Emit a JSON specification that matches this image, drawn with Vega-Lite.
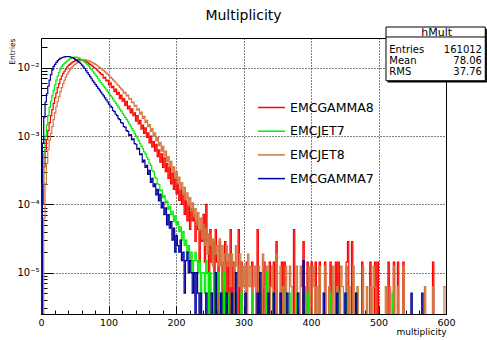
{
  "$schema": "https://vega.github.io/schema/vega-lite/v6.json",
  "width": 405,
  "height": 276,
  "autosize": {"type": "none"},
  "padding": {"left": 41, "top": 38, "right": 41, "bottom": 26},
  "background": "white",
  "title": {"text": "Multiplicity", "font": "DejaVu Sans", "fontSize": 14, "fontWeight": "normal", "color": "black", "anchor": "middle", "frame": "group", "offset": 4},
  "config": {
    "view": {"stroke": "black", "strokeWidth": 1},
    "axis": {"domainColor": "black", "tickColor": "black", "labelColor": "black", "titleColor": "black"}
  },
  "layer": [
    {
      "data": {"values": [
        {"series":"EMCGAMMA8","x":0,"y":1e-7},{"series":"EMCGAMMA8","x":2,"y":1e-4},{"series":"EMCGAMMA8","x":4,"y":3.55e-4},{"series":"EMCGAMMA8","x":6,"y":6.31e-4},{"series":"EMCGAMMA8","x":8,"y":8.91e-4},{"series":"EMCGAMMA8","x":10,"y":1.2e-3},{"series":"EMCGAMMA8","x":12,"y":1.58e-3},{"series":"EMCGAMMA8","x":14,"y":2.0e-3},{"series":"EMCGAMMA8","x":16,"y":2.45e-3},{"series":"EMCGAMMA8","x":18,"y":3.02e-3},
        {"series":"EMCGAMMA8","x":20,"y":3.63e-3},{"series":"EMCGAMMA8","x":22,"y":4.27e-3},{"series":"EMCGAMMA8","x":24,"y":5.13e-3},{"series":"EMCGAMMA8","x":26,"y":5.89e-3},{"series":"EMCGAMMA8","x":28,"y":6.76e-3},{"series":"EMCGAMMA8","x":30,"y":7.59e-3},{"series":"EMCGAMMA8","x":32,"y":8.32e-3},{"series":"EMCGAMMA8","x":34,"y":8.91e-3},{"series":"EMCGAMMA8","x":36,"y":9.55e-3},{"series":"EMCGAMMA8","x":38,"y":1.023e-2},
        {"series":"EMCGAMMA8","x":40,"y":1.084e-2},{"series":"EMCGAMMA8","x":42,"y":1.122e-2},{"series":"EMCGAMMA8","x":44,"y":1.175e-2},{"series":"EMCGAMMA8","x":46,"y":1.216e-2},{"series":"EMCGAMMA8","x":48,"y":1.245e-2},{"series":"EMCGAMMA8","x":50,"y":1.274e-2},{"series":"EMCGAMMA8","x":52,"y":1.294e-2},{"series":"EMCGAMMA8","x":54,"y":1.306e-2},{"series":"EMCGAMMA8","x":56,"y":1.318e-2},{"series":"EMCGAMMA8","x":58,"y":1.312e-2},
        {"series":"EMCGAMMA8","x":60,"y":1.3e-2},{"series":"EMCGAMMA8","x":62,"y":1.279e-2},{"series":"EMCGAMMA8","x":64,"y":1.259e-2},{"series":"EMCGAMMA8","x":66,"y":1.23e-2},{"series":"EMCGAMMA8","x":68,"y":1.202e-2},{"series":"EMCGAMMA8","x":70,"y":1.161e-2},{"series":"EMCGAMMA8","x":72,"y":1.122e-2},{"series":"EMCGAMMA8","x":74,"y":1.084e-2},{"series":"EMCGAMMA8","x":76,"y":1.047e-2},{"series":"EMCGAMMA8","x":78,"y":1.012e-2},
        {"series":"EMCGAMMA8","x":80,"y":9.77e-3},{"series":"EMCGAMMA8","x":82,"y":9.33e-3},{"series":"EMCGAMMA8","x":84,"y":8.91e-3},{"series":"EMCGAMMA8","x":86,"y":8.51e-3},{"series":"EMCGAMMA8","x":88,"y":8.13e-3},{"series":"EMCGAMMA8","x":90,"y":7.94e-3},{"series":"EMCGAMMA8","x":92,"y":7.08e-3},{"series":"EMCGAMMA8","x":94,"y":7.24e-3},{"series":"EMCGAMMA8","x":96,"y":6.46e-3},{"series":"EMCGAMMA8","x":98,"y":6.6e-3},
        {"series":"EMCGAMMA8","x":100,"y":5.62e-3},{"series":"EMCGAMMA8","x":102,"y":6.03e-3},{"series":"EMCGAMMA8","x":104,"y":5.13e-3},{"series":"EMCGAMMA8","x":106,"y":5.37e-3},{"series":"EMCGAMMA8","x":108,"y":4.47e-3},{"series":"EMCGAMMA8","x":110,"y":4.9e-3},{"series":"EMCGAMMA8","x":112,"y":4.07e-3},{"series":"EMCGAMMA8","x":114,"y":4.37e-3},{"series":"EMCGAMMA8","x":116,"y":3.55e-3},{"series":"EMCGAMMA8","x":118,"y":3.98e-3},
        {"series":"EMCGAMMA8","x":120,"y":3.24e-3},{"series":"EMCGAMMA8","x":122,"y":3.55e-3},{"series":"EMCGAMMA8","x":124,"y":2.82e-3},{"series":"EMCGAMMA8","x":126,"y":3.24e-3},{"series":"EMCGAMMA8","x":128,"y":2.51e-3},{"series":"EMCGAMMA8","x":130,"y":2.75e-3},{"series":"EMCGAMMA8","x":132,"y":2.19e-3},{"series":"EMCGAMMA8","x":134,"y":2.51e-3},{"series":"EMCGAMMA8","x":136,"y":2.0e-3},{"series":"EMCGAMMA8","x":138,"y":2.19e-3},
        {"series":"EMCGAMMA8","x":140,"y":1.66e-3},{"series":"EMCGAMMA8","x":142,"y":2.0e-3},{"series":"EMCGAMMA8","x":144,"y":1.51e-3},{"series":"EMCGAMMA8","x":146,"y":1.7e-3},{"series":"EMCGAMMA8","x":148,"y":1.26e-3},{"series":"EMCGAMMA8","x":150,"y":1.45e-3},{"series":"EMCGAMMA8","x":152,"y":1.1e-3},{"series":"EMCGAMMA8","x":154,"y":1.32e-3},{"series":"EMCGAMMA8","x":156,"y":9.55e-4},{"series":"EMCGAMMA8","x":158,"y":1.12e-3},
        {"series":"EMCGAMMA8","x":160,"y":7.94e-4},{"series":"EMCGAMMA8","x":162,"y":1.0e-3},{"series":"EMCGAMMA8","x":164,"y":6.92e-4},{"series":"EMCGAMMA8","x":166,"y":8.32e-4},{"series":"EMCGAMMA8","x":168,"y":6.03e-4},{"series":"EMCGAMMA8","x":170,"y":7.59e-4},{"series":"EMCGAMMA8","x":172,"y":5.0e-4},{"series":"EMCGAMMA8","x":174,"y":6.31e-4},{"series":"EMCGAMMA8","x":176,"y":4.17e-4},{"series":"EMCGAMMA8","x":178,"y":5.5e-4},
        {"series":"EMCGAMMA8","x":180,"y":3.47e-4},{"series":"EMCGAMMA8","x":182,"y":4.79e-4},{"series":"EMCGAMMA8","x":184,"y":3.02e-4},{"series":"EMCGAMMA8","x":186,"y":3.98e-4},{"series":"EMCGAMMA8","x":188,"y":2.4e-4},{"series":"EMCGAMMA8","x":190,"y":3.47e-4},{"series":"EMCGAMMA8","x":192,"y":2.0e-4},{"series":"EMCGAMMA8","x":194,"y":2.82e-4},{"series":"EMCGAMMA8","x":196,"y":1.66e-4},{"series":"EMCGAMMA8","x":198,"y":2.4e-4},
        {"series":"EMCGAMMA8","x":200,"y":1.43e-4},{"series":"EMCGAMMA8","x":202,"y":2.0e-4},{"series":"EMCGAMMA8","x":204,"y":1.14e-4},{"series":"EMCGAMMA8","x":206,"y":1.66e-4},{"series":"EMCGAMMA8","x":208,"y":1.0e-4},{"series":"EMCGAMMA8","x":210,"y":1.43e-4},{"series":"EMCGAMMA8","x":212,"y":7.15e-5},{"series":"EMCGAMMA8","x":214,"y":1.14e-4},{"series":"EMCGAMMA8","x":216,"y":5.72e-5},{"series":"EMCGAMMA8","x":218,"y":1.0e-4},
        {"series":"EMCGAMMA8","x":220,"y":4.29e-5},{"series":"EMCGAMMA8","x":222,"y":8.6e-5},{"series":"EMCGAMMA8","x":224,"y":5.72e-5},{"series":"EMCGAMMA8","x":226,"y":7.15e-5},{"series":"EMCGAMMA8","x":228,"y":2.86e-5},{"series":"EMCGAMMA8","x":230,"y":5.72e-5},{"series":"EMCGAMMA8","x":232,"y":4.29e-5},{"series":"EMCGAMMA8","x":234,"y":1.43e-5},{"series":"EMCGAMMA8","x":236,"y":4.29e-5},{"series":"EMCGAMMA8","x":238,"y":2.86e-5},
        {"series":"EMCGAMMA8","x":240,"y":7.15e-5},{"series":"EMCGAMMA8","x":242,"y":1.43e-5},{"series":"EMCGAMMA8","x":244,"y":1.0e-4},{"series":"EMCGAMMA8","x":246,"y":2.86e-5},{"series":"EMCGAMMA8","x":248,"y":1e-7},{"series":"EMCGAMMA8","x":250,"y":4.29e-5},{"series":"EMCGAMMA8","x":252,"y":1.43e-5},{"series":"EMCGAMMA8","x":254,"y":2.86e-5},{"series":"EMCGAMMA8","x":256,"y":1e-7},{"series":"EMCGAMMA8","x":258,"y":4.29e-5},
        {"series":"EMCGAMMA8","x":260,"y":1.43e-5},{"series":"EMCGAMMA8","x":262,"y":1e-7},{"series":"EMCGAMMA8","x":264,"y":2.86e-5},{"series":"EMCGAMMA8","x":266,"y":1.43e-5},{"series":"EMCGAMMA8","x":268,"y":1e-7},{"series":"EMCGAMMA8","x":270,"y":1.43e-5},{"series":"EMCGAMMA8","x":272,"y":2.86e-5},{"series":"EMCGAMMA8","x":274,"y":1e-7},{"series":"EMCGAMMA8","x":276,"y":1.43e-5},{"series":"EMCGAMMA8","x":278,"y":1e-7},
        {"series":"EMCGAMMA8","x":280,"y":4.29e-5},{"series":"EMCGAMMA8","x":282,"y":1e-7},{"series":"EMCGAMMA8","x":284,"y":1.43e-5},{"series":"EMCGAMMA8","x":286,"y":1e-7},{"series":"EMCGAMMA8","x":292,"y":4.29e-5},{"series":"EMCGAMMA8","x":294,"y":1e-7},{"series":"EMCGAMMA8","x":296,"y":1.43e-5},{"series":"EMCGAMMA8","x":298,"y":1e-7},{"series":"EMCGAMMA8","x":304,"y":1.43e-5},{"series":"EMCGAMMA8","x":306,"y":1e-7},
        {"series":"EMCGAMMA8","x":312,"y":1.43e-5},{"series":"EMCGAMMA8","x":314,"y":1e-7},{"series":"EMCGAMMA8","x":320,"y":4.29e-5},{"series":"EMCGAMMA8","x":322,"y":1e-7},{"series":"EMCGAMMA8","x":330,"y":1.43e-5},{"series":"EMCGAMMA8","x":332,"y":1e-7},{"series":"EMCGAMMA8","x":338,"y":1.43e-5},{"series":"EMCGAMMA8","x":340,"y":1e-7},{"series":"EMCGAMMA8","x":344,"y":1.43e-5},{"series":"EMCGAMMA8","x":346,"y":1e-7},
        {"series":"EMCGAMMA8","x":348,"y":2.86e-5},{"series":"EMCGAMMA8","x":350,"y":1e-7},{"series":"EMCGAMMA8","x":356,"y":1.43e-5},{"series":"EMCGAMMA8","x":358,"y":1e-7},{"series":"EMCGAMMA8","x":360,"y":1.43e-5},{"series":"EMCGAMMA8","x":362,"y":1e-7},{"series":"EMCGAMMA8","x":374,"y":4.29e-5},{"series":"EMCGAMMA8","x":376,"y":1e-7},{"series":"EMCGAMMA8","x":388,"y":2.86e-5},{"series":"EMCGAMMA8","x":390,"y":1e-7},
        {"series":"EMCGAMMA8","x":394,"y":1.43e-5},{"series":"EMCGAMMA8","x":396,"y":1e-7},{"series":"EMCGAMMA8","x":400,"y":1.43e-5},{"series":"EMCGAMMA8","x":402,"y":1e-7},{"series":"EMCGAMMA8","x":406,"y":1.43e-5},{"series":"EMCGAMMA8","x":408,"y":1e-7},{"series":"EMCGAMMA8","x":412,"y":1.43e-5},{"series":"EMCGAMMA8","x":414,"y":1e-7},{"series":"EMCGAMMA8","x":420,"y":1.43e-5},{"series":"EMCGAMMA8","x":422,"y":1e-7},
        {"series":"EMCGAMMA8","x":428,"y":1.43e-5},{"series":"EMCGAMMA8","x":430,"y":1e-7},{"series":"EMCGAMMA8","x":436,"y":1.43e-5},{"series":"EMCGAMMA8","x":438,"y":1e-7},{"series":"EMCGAMMA8","x":440,"y":1.43e-5},{"series":"EMCGAMMA8","x":442,"y":1e-7},{"series":"EMCGAMMA8","x":452,"y":1.43e-5},{"series":"EMCGAMMA8","x":454,"y":2.86e-5},{"series":"EMCGAMMA8","x":456,"y":1e-7},{"series":"EMCGAMMA8","x":460,"y":2.86e-5},
        {"series":"EMCGAMMA8","x":462,"y":1e-7},{"series":"EMCGAMMA8","x":475,"y":1.43e-5},{"series":"EMCGAMMA8","x":477,"y":1e-7},{"series":"EMCGAMMA8","x":487,"y":1.43e-5},{"series":"EMCGAMMA8","x":489,"y":1e-7},{"series":"EMCGAMMA8","x":494,"y":1.43e-5},{"series":"EMCGAMMA8","x":496,"y":1e-7},{"series":"EMCGAMMA8","x":498,"y":1.43e-5},{"series":"EMCGAMMA8","x":500,"y":1e-7},{"series":"EMCGAMMA8","x":514,"y":1.43e-5},
        {"series":"EMCGAMMA8","x":516,"y":1e-7},{"series":"EMCGAMMA8","x":522,"y":1.43e-5},{"series":"EMCGAMMA8","x":524,"y":1e-7},{"series":"EMCGAMMA8","x":528,"y":1.43e-5},{"series":"EMCGAMMA8","x":530,"y":1e-7},{"series":"EMCGAMMA8","x":536,"y":1.43e-5},{"series":"EMCGAMMA8","x":538,"y":1e-7},{"series":"EMCGAMMA8","x":580,"y":1.43e-5},{"series":"EMCGAMMA8","x":582,"y":1e-7},{"series":"EMCGAMMA8","x":600,"y":1e-7},

        {"series":"EMCJET8","x":0,"y":1e-7},{"series":"EMCJET8","x":2,"y":1e-7},{"series":"EMCJET8","x":4,"y":6.3e-5},{"series":"EMCJET8","x":6,"y":2.0e-4},{"series":"EMCJET8","x":8,"y":3.98e-4},{"series":"EMCJET8","x":10,"y":6.31e-4},{"series":"EMCJET8","x":12,"y":8.71e-4},{"series":"EMCJET8","x":14,"y":1.1e-3},{"series":"EMCJET8","x":16,"y":1.38e-3},{"series":"EMCJET8","x":18,"y":1.74e-3},
        {"series":"EMCJET8","x":20,"y":2.19e-3},{"series":"EMCJET8","x":22,"y":2.69e-3},{"series":"EMCJET8","x":24,"y":3.24e-3},{"series":"EMCJET8","x":26,"y":3.8e-3},{"series":"EMCJET8","x":28,"y":4.47e-3},{"series":"EMCJET8","x":30,"y":5.13e-3},{"series":"EMCJET8","x":32,"y":5.89e-3},{"series":"EMCJET8","x":34,"y":6.6e-3},{"series":"EMCJET8","x":36,"y":7.33e-3},{"series":"EMCJET8","x":38,"y":8.04e-3},
        {"series":"EMCJET8","x":40,"y":8.71e-3},{"series":"EMCJET8","x":42,"y":9.33e-3},{"series":"EMCJET8","x":44,"y":9.89e-3},{"series":"EMCJET8","x":46,"y":1.047e-2},{"series":"EMCJET8","x":48,"y":1.096e-2},{"series":"EMCJET8","x":50,"y":1.135e-2},{"series":"EMCJET8","x":52,"y":1.175e-2},{"series":"EMCJET8","x":54,"y":1.216e-2},{"series":"EMCJET8","x":56,"y":1.259e-2},{"series":"EMCJET8","x":58,"y":1.288e-2},
        {"series":"EMCJET8","x":60,"y":1.306e-2},{"series":"EMCJET8","x":62,"y":1.318e-2},{"series":"EMCJET8","x":64,"y":1.315e-2},{"series":"EMCJET8","x":66,"y":1.303e-2},{"series":"EMCJET8","x":68,"y":1.288e-2},{"series":"EMCJET8","x":70,"y":1.265e-2},{"series":"EMCJET8","x":72,"y":1.242e-2},{"series":"EMCJET8","x":74,"y":1.216e-2},{"series":"EMCJET8","x":76,"y":1.186e-2},{"series":"EMCJET8","x":78,"y":1.156e-2},
        {"series":"EMCJET8","x":80,"y":1.122e-2},{"series":"EMCJET8","x":82,"y":1.089e-2},{"series":"EMCJET8","x":84,"y":1.054e-2},{"series":"EMCJET8","x":86,"y":1.019e-2},{"series":"EMCJET8","x":88,"y":9.82e-3},{"series":"EMCJET8","x":90,"y":9.44e-3},{"series":"EMCJET8","x":92,"y":9.08e-3},{"series":"EMCJET8","x":94,"y":8.71e-3},{"series":"EMCJET8","x":96,"y":8.36e-3},{"series":"EMCJET8","x":98,"y":8.02e-3},
        {"series":"EMCJET8","x":100,"y":7.67e-3},{"series":"EMCJET8","x":102,"y":7.33e-3},{"series":"EMCJET8","x":104,"y":7.0e-3},{"series":"EMCJET8","x":106,"y":6.68e-3},{"series":"EMCJET8","x":108,"y":6.38e-3},{"series":"EMCJET8","x":110,"y":6.05e-3},{"series":"EMCJET8","x":112,"y":5.75e-3},{"series":"EMCJET8","x":114,"y":5.47e-3},{"series":"EMCJET8","x":116,"y":5.19e-3},{"series":"EMCJET8","x":118,"y":4.92e-3},
        {"series":"EMCJET8","x":120,"y":4.68e-3},{"series":"EMCJET8","x":122,"y":4.27e-3},{"series":"EMCJET8","x":124,"y":4.37e-3},{"series":"EMCJET8","x":126,"y":3.89e-3},{"series":"EMCJET8","x":128,"y":3.98e-3},{"series":"EMCJET8","x":130,"y":3.47e-3},{"series":"EMCJET8","x":132,"y":3.55e-3},{"series":"EMCJET8","x":134,"y":3.09e-3},{"series":"EMCJET8","x":136,"y":3.16e-3},{"series":"EMCJET8","x":138,"y":2.75e-3},
        {"series":"EMCJET8","x":140,"y":2.82e-3},{"series":"EMCJET8","x":142,"y":2.4e-3},{"series":"EMCJET8","x":144,"y":2.51e-3},{"series":"EMCJET8","x":146,"y":2.09e-3},{"series":"EMCJET8","x":148,"y":2.24e-3},{"series":"EMCJET8","x":150,"y":1.82e-3},{"series":"EMCJET8","x":152,"y":1.95e-3},{"series":"EMCJET8","x":154,"y":1.58e-3},{"series":"EMCJET8","x":156,"y":1.7e-3},{"series":"EMCJET8","x":158,"y":1.38e-3},
        {"series":"EMCJET8","x":160,"y":1.48e-3},{"series":"EMCJET8","x":162,"y":1.175e-3},{"series":"EMCJET8","x":164,"y":1.29e-3},{"series":"EMCJET8","x":166,"y":1.0e-3},{"series":"EMCJET8","x":168,"y":1.12e-3},{"series":"EMCJET8","x":170,"y":8.51e-4},{"series":"EMCJET8","x":172,"y":9.55e-4},{"series":"EMCJET8","x":174,"y":7.24e-4},{"series":"EMCJET8","x":176,"y":8.13e-4},{"series":"EMCJET8","x":178,"y":6.03e-4},
        {"series":"EMCJET8","x":180,"y":7.08e-4},{"series":"EMCJET8","x":182,"y":5.13e-4},{"series":"EMCJET8","x":184,"y":6.03e-4},{"series":"EMCJET8","x":186,"y":4.27e-4},{"series":"EMCJET8","x":188,"y":5.0e-4},{"series":"EMCJET8","x":190,"y":3.55e-4},{"series":"EMCJET8","x":192,"y":4.27e-4},{"series":"EMCJET8","x":194,"y":2.95e-4},{"series":"EMCJET8","x":196,"y":3.55e-4},{"series":"EMCJET8","x":198,"y":2.4e-4},
        {"series":"EMCJET8","x":200,"y":3.02e-4},{"series":"EMCJET8","x":202,"y":2.0e-4},{"series":"EMCJET8","x":204,"y":2.51e-4},{"series":"EMCJET8","x":206,"y":1.66e-4},{"series":"EMCJET8","x":208,"y":2.09e-4},{"series":"EMCJET8","x":210,"y":1.38e-4},{"series":"EMCJET8","x":212,"y":1.78e-4},{"series":"EMCJET8","x":214,"y":1.15e-4},{"series":"EMCJET8","x":216,"y":1.48e-4},{"series":"EMCJET8","x":218,"y":9.55e-5},
        {"series":"EMCJET8","x":220,"y":1.26e-4},{"series":"EMCJET8","x":222,"y":7.94e-5},{"series":"EMCJET8","x":224,"y":1.05e-4},{"series":"EMCJET8","x":226,"y":6.6e-5},{"series":"EMCJET8","x":228,"y":8.71e-5},{"series":"EMCJET8","x":230,"y":5.0e-5},{"series":"EMCJET8","x":232,"y":7.59e-5},{"series":"EMCJET8","x":234,"y":4.17e-5},{"series":"EMCJET8","x":236,"y":6.3e-5},{"series":"EMCJET8","x":238,"y":3.12e-5},
        {"series":"EMCJET8","x":240,"y":5.0e-5},{"series":"EMCJET8","x":242,"y":2.5e-5},{"series":"EMCJET8","x":244,"y":4.37e-5},{"series":"EMCJET8","x":246,"y":1.87e-5},{"series":"EMCJET8","x":248,"y":3.74e-5},{"series":"EMCJET8","x":250,"y":2.5e-5},{"series":"EMCJET8","x":252,"y":3.12e-5},{"series":"EMCJET8","x":254,"y":1.25e-5},{"series":"EMCJET8","x":256,"y":3.12e-5},{"series":"EMCJET8","x":258,"y":1.87e-5},
        {"series":"EMCJET8","x":260,"y":2.5e-5},{"series":"EMCJET8","x":262,"y":1.25e-5},{"series":"EMCJET8","x":264,"y":3.12e-5},{"series":"EMCJET8","x":266,"y":1.25e-5},{"series":"EMCJET8","x":268,"y":2.5e-5},{"series":"EMCJET8","x":270,"y":6.24e-6},{"series":"EMCJET8","x":272,"y":1.87e-5},{"series":"EMCJET8","x":274,"y":2.5e-5},{"series":"EMCJET8","x":276,"y":1.25e-5},{"series":"EMCJET8","x":278,"y":1.87e-5},
        {"series":"EMCJET8","x":280,"y":6.24e-6},{"series":"EMCJET8","x":282,"y":1.87e-5},{"series":"EMCJET8","x":284,"y":1.25e-5},{"series":"EMCJET8","x":286,"y":6.24e-6},{"series":"EMCJET8","x":288,"y":2.5e-5},{"series":"EMCJET8","x":290,"y":1.25e-5},{"series":"EMCJET8","x":292,"y":6.24e-6},{"series":"EMCJET8","x":294,"y":1.87e-5},{"series":"EMCJET8","x":296,"y":1e-7},{"series":"EMCJET8","x":298,"y":1.25e-5},
        {"series":"EMCJET8","x":300,"y":6.24e-6},{"series":"EMCJET8","x":302,"y":1.25e-5},{"series":"EMCJET8","x":304,"y":1e-7},{"series":"EMCJET8","x":306,"y":1.87e-5},{"series":"EMCJET8","x":308,"y":6.24e-6},{"series":"EMCJET8","x":310,"y":1.25e-5},{"series":"EMCJET8","x":312,"y":1e-7},{"series":"EMCJET8","x":314,"y":6.24e-6},{"series":"EMCJET8","x":316,"y":1.25e-5},{"series":"EMCJET8","x":318,"y":1e-7},
        {"series":"EMCJET8","x":322,"y":1.25e-5},{"series":"EMCJET8","x":324,"y":1e-7},{"series":"EMCJET8","x":328,"y":1.87e-5},{"series":"EMCJET8","x":330,"y":6.24e-6},{"series":"EMCJET8","x":332,"y":1e-7},{"series":"EMCJET8","x":334,"y":1.25e-5},{"series":"EMCJET8","x":336,"y":1e-7},{"series":"EMCJET8","x":340,"y":6.24e-6},{"series":"EMCJET8","x":342,"y":1.25e-5},{"series":"EMCJET8","x":344,"y":1e-7},
        {"series":"EMCJET8","x":348,"y":1.87e-5},{"series":"EMCJET8","x":350,"y":1e-7},{"series":"EMCJET8","x":354,"y":1.25e-5},{"series":"EMCJET8","x":356,"y":1e-7},{"series":"EMCJET8","x":358,"y":6.24e-6},{"series":"EMCJET8","x":360,"y":1e-7},{"series":"EMCJET8","x":362,"y":1.25e-5},{"series":"EMCJET8","x":364,"y":1e-7},{"series":"EMCJET8","x":368,"y":1.25e-5},{"series":"EMCJET8","x":370,"y":6.24e-6},
        {"series":"EMCJET8","x":372,"y":1e-7},{"series":"EMCJET8","x":378,"y":1.25e-5},{"series":"EMCJET8","x":380,"y":1e-7},{"series":"EMCJET8","x":384,"y":1.25e-5},{"series":"EMCJET8","x":386,"y":6.24e-6},{"series":"EMCJET8","x":388,"y":1e-7},{"series":"EMCJET8","x":390,"y":6.24e-6},{"series":"EMCJET8","x":392,"y":1e-7},{"series":"EMCJET8","x":396,"y":1.25e-5},{"series":"EMCJET8","x":398,"y":1e-7},
        {"series":"EMCJET8","x":402,"y":1.25e-5},{"series":"EMCJET8","x":404,"y":6.24e-6},{"series":"EMCJET8","x":406,"y":1e-7},{"series":"EMCJET8","x":408,"y":6.24e-6},{"series":"EMCJET8","x":410,"y":1e-7},{"series":"EMCJET8","x":412,"y":1.25e-5},{"series":"EMCJET8","x":414,"y":1e-7},{"series":"EMCJET8","x":420,"y":1.25e-5},{"series":"EMCJET8","x":422,"y":1e-7},{"series":"EMCJET8","x":426,"y":6.24e-6},
        {"series":"EMCJET8","x":428,"y":1e-7},{"series":"EMCJET8","x":432,"y":1.25e-5},{"series":"EMCJET8","x":434,"y":1e-7},{"series":"EMCJET8","x":438,"y":6.24e-6},{"series":"EMCJET8","x":440,"y":1e-7},{"series":"EMCJET8","x":444,"y":1.25e-5},{"series":"EMCJET8","x":446,"y":6.24e-6},{"series":"EMCJET8","x":448,"y":1e-7},{"series":"EMCJET8","x":452,"y":1.25e-5},{"series":"EMCJET8","x":454,"y":1e-7},
        {"series":"EMCJET8","x":456,"y":6.24e-6},{"series":"EMCJET8","x":458,"y":1e-7},{"series":"EMCJET8","x":462,"y":1.25e-5},{"series":"EMCJET8","x":464,"y":1e-7},{"series":"EMCJET8","x":468,"y":6.24e-6},{"series":"EMCJET8","x":470,"y":1e-7},{"series":"EMCJET8","x":476,"y":1.25e-5},{"series":"EMCJET8","x":478,"y":1e-7},{"series":"EMCJET8","x":482,"y":6.24e-6},{"series":"EMCJET8","x":484,"y":1e-7},
        {"series":"EMCJET8","x":488,"y":6.24e-6},{"series":"EMCJET8","x":490,"y":1e-7},{"series":"EMCJET8","x":492,"y":1.25e-5},{"series":"EMCJET8","x":494,"y":6.24e-6},{"series":"EMCJET8","x":496,"y":1e-7},{"series":"EMCJET8","x":510,"y":6.24e-6},{"series":"EMCJET8","x":512,"y":1e-7},{"series":"EMCJET8","x":516,"y":6.24e-6},{"series":"EMCJET8","x":518,"y":1e-7},{"series":"EMCJET8","x":522,"y":1.25e-5},
        {"series":"EMCJET8","x":524,"y":1e-7},{"series":"EMCJET8","x":528,"y":6.24e-6},{"series":"EMCJET8","x":530,"y":1e-7},{"series":"EMCJET8","x":536,"y":1.25e-5},{"series":"EMCJET8","x":538,"y":1e-7},{"series":"EMCJET8","x":568,"y":6.24e-6},{"series":"EMCJET8","x":570,"y":1e-7},{"series":"EMCJET8","x":580,"y":6.24e-6},{"series":"EMCJET8","x":582,"y":1e-7},{"series":"EMCJET8","x":597,"y":6.24e-6},{"series":"EMCJET8","x":600,"y":1e-7},

        {"series":"EMCJET7","x":0,"y":1e-7},{"series":"EMCJET7","x":2,"y":2.0e-4},{"series":"EMCJET7","x":4,"y":5.6e-4},{"series":"EMCJET7","x":6,"y":1.0e-3},{"series":"EMCJET7","x":8,"y":1.45e-3},{"series":"EMCJET7","x":10,"y":2.0e-3},{"series":"EMCJET7","x":12,"y":2.63e-3},{"series":"EMCJET7","x":14,"y":3.24e-3},{"series":"EMCJET7","x":16,"y":3.89e-3},{"series":"EMCJET7","x":18,"y":4.68e-3},
        {"series":"EMCJET7","x":20,"y":5.62e-3},{"series":"EMCJET7","x":22,"y":6.6e-3},{"series":"EMCJET7","x":24,"y":7.59e-3},{"series":"EMCJET7","x":26,"y":8.61e-3},{"series":"EMCJET7","x":28,"y":9.55e-3},{"series":"EMCJET7","x":30,"y":1.047e-2},{"series":"EMCJET7","x":32,"y":1.107e-2},{"series":"EMCJET7","x":34,"y":1.161e-2},{"series":"EMCJET7","x":36,"y":1.216e-2},{"series":"EMCJET7","x":38,"y":1.268e-2},
        {"series":"EMCJET7","x":40,"y":1.312e-2},{"series":"EMCJET7","x":42,"y":1.349e-2},{"series":"EMCJET7","x":44,"y":1.38e-2},{"series":"EMCJET7","x":46,"y":1.406e-2},{"series":"EMCJET7","x":48,"y":1.426e-2},{"series":"EMCJET7","x":50,"y":1.435e-2},{"series":"EMCJET7","x":52,"y":1.429e-2},{"series":"EMCJET7","x":54,"y":1.413e-2},{"series":"EMCJET7","x":56,"y":1.38e-2},{"series":"EMCJET7","x":58,"y":1.343e-2},
        {"series":"EMCJET7","x":60,"y":1.303e-2},{"series":"EMCJET7","x":62,"y":1.259e-2},{"series":"EMCJET7","x":64,"y":1.216e-2},{"series":"EMCJET7","x":66,"y":1.175e-2},{"series":"EMCJET7","x":68,"y":1.122e-2},{"series":"EMCJET7","x":70,"y":1.059e-2},{"series":"EMCJET7","x":72,"y":1.0e-2},{"series":"EMCJET7","x":74,"y":9.44e-3},{"series":"EMCJET7","x":76,"y":8.91e-3},{"series":"EMCJET7","x":78,"y":8.36e-3},
        {"series":"EMCJET7","x":80,"y":7.85e-3},{"series":"EMCJET7","x":82,"y":7.41e-3},{"series":"EMCJET7","x":84,"y":6.92e-3},{"series":"EMCJET7","x":86,"y":6.46e-3},{"series":"EMCJET7","x":88,"y":6.1e-3},{"series":"EMCJET7","x":90,"y":5.75e-3},{"series":"EMCJET7","x":92,"y":5.37e-3},{"series":"EMCJET7","x":94,"y":5.07e-3},{"series":"EMCJET7","x":96,"y":4.79e-3},{"series":"EMCJET7","x":98,"y":4.47e-3},
        {"series":"EMCJET7","x":100,"y":4.2e-3},{"series":"EMCJET7","x":102,"y":3.94e-3},{"series":"EMCJET7","x":104,"y":3.72e-3},{"series":"EMCJET7","x":106,"y":3.47e-3},{"series":"EMCJET7","x":108,"y":3.24e-3},{"series":"EMCJET7","x":110,"y":3.05e-3},{"series":"EMCJET7","x":112,"y":2.85e-3},{"series":"EMCJET7","x":114,"y":2.66e-3},{"series":"EMCJET7","x":116,"y":2.48e-3},{"series":"EMCJET7","x":118,"y":2.32e-3},
        {"series":"EMCJET7","x":120,"y":2.16e-3},{"series":"EMCJET7","x":122,"y":2.02e-3},{"series":"EMCJET7","x":124,"y":1.88e-3},{"series":"EMCJET7","x":126,"y":1.76e-3},{"series":"EMCJET7","x":128,"y":1.64e-3},{"series":"EMCJET7","x":130,"y":1.51e-3},{"series":"EMCJET7","x":132,"y":1.4e-3},{"series":"EMCJET7","x":134,"y":1.29e-3},{"series":"EMCJET7","x":136,"y":1.19e-3},{"series":"EMCJET7","x":138,"y":1.1e-3},
        {"series":"EMCJET7","x":140,"y":1.01e-3},{"series":"EMCJET7","x":142,"y":9.3e-4},{"series":"EMCJET7","x":144,"y":8.5e-4},{"series":"EMCJET7","x":146,"y":7.76e-4},{"series":"EMCJET7","x":148,"y":7.08e-4},{"series":"EMCJET7","x":150,"y":6.53e-4},{"series":"EMCJET7","x":152,"y":5.89e-4},{"series":"EMCJET7","x":154,"y":5.5e-4},{"series":"EMCJET7","x":156,"y":4.9e-4},{"series":"EMCJET7","x":158,"y":4.57e-4},
        {"series":"EMCJET7","x":160,"y":3.98e-4},{"series":"EMCJET7","x":162,"y":3.72e-4},{"series":"EMCJET7","x":164,"y":3.16e-4},{"series":"EMCJET7","x":166,"y":3.02e-4},{"series":"EMCJET7","x":168,"y":2.51e-4},{"series":"EMCJET7","x":170,"y":2.4e-4},{"series":"EMCJET7","x":172,"y":2.0e-4},{"series":"EMCJET7","x":174,"y":1.95e-4},{"series":"EMCJET7","x":176,"y":1.58e-4},{"series":"EMCJET7","x":178,"y":1.62e-4},
        {"series":"EMCJET7","x":180,"y":1.26e-4},{"series":"EMCJET7","x":182,"y":1.35e-4},{"series":"EMCJET7","x":184,"y":1.05e-4},{"series":"EMCJET7","x":186,"y":1.12e-4},{"series":"EMCJET7","x":188,"y":8.5e-5},{"series":"EMCJET7","x":190,"y":9.3e-5},{"series":"EMCJET7","x":192,"y":7.1e-5},{"series":"EMCJET7","x":194,"y":7.9e-5},{"series":"EMCJET7","x":196,"y":5.6e-5},{"series":"EMCJET7","x":198,"y":6.8e-5},
        {"series":"EMCJET7","x":200,"y":5.0e-5},{"series":"EMCJET7","x":202,"y":5.6e-5},{"series":"EMCJET7","x":204,"y":4.0e-5},{"series":"EMCJET7","x":206,"y":4.7e-5},{"series":"EMCJET7","x":208,"y":3.0e-5},{"series":"EMCJET7","x":210,"y":4.0e-5},{"series":"EMCJET7","x":212,"y":2.5e-5},{"series":"EMCJET7","x":214,"y":3.0e-5},{"series":"EMCJET7","x":216,"y":2.0e-5},{"series":"EMCJET7","x":218,"y":2.5e-5},
        {"series":"EMCJET7","x":220,"y":1.5e-5},{"series":"EMCJET7","x":222,"y":2.0e-5},{"series":"EMCJET7","x":224,"y":1.0e-5},{"series":"EMCJET7","x":226,"y":1.5e-5},{"series":"EMCJET7","x":228,"y":2.0e-5},{"series":"EMCJET7","x":230,"y":1.5e-5},{"series":"EMCJET7","x":232,"y":1.0e-5},{"series":"EMCJET7","x":234,"y":1.5e-5},{"series":"EMCJET7","x":236,"y":5e-6},{"series":"EMCJET7","x":238,"y":1.0e-5},
        {"series":"EMCJET7","x":240,"y":1.0e-5},{"series":"EMCJET7","x":242,"y":5e-6},{"series":"EMCJET7","x":244,"y":1.5e-5},{"series":"EMCJET7","x":246,"y":1.0e-5},{"series":"EMCJET7","x":248,"y":1e-7},{"series":"EMCJET7","x":250,"y":1.0e-5},{"series":"EMCJET7","x":252,"y":5e-6},{"series":"EMCJET7","x":254,"y":1e-7},{"series":"EMCJET7","x":256,"y":1.0e-5},{"series":"EMCJET7","x":258,"y":1e-7},
        {"series":"EMCJET7","x":260,"y":5e-6},{"series":"EMCJET7","x":262,"y":1.0e-5},{"series":"EMCJET7","x":264,"y":1e-7},{"series":"EMCJET7","x":266,"y":5e-6},{"series":"EMCJET7","x":268,"y":1e-7},{"series":"EMCJET7","x":270,"y":1.0e-5},{"series":"EMCJET7","x":272,"y":1e-7},{"series":"EMCJET7","x":276,"y":5e-6},{"series":"EMCJET7","x":278,"y":1e-7},{"series":"EMCJET7","x":282,"y":5e-6},
        {"series":"EMCJET7","x":284,"y":1e-7},{"series":"EMCJET7","x":288,"y":5e-6},{"series":"EMCJET7","x":290,"y":1e-7},{"series":"EMCJET7","x":296,"y":5e-6},{"series":"EMCJET7","x":298,"y":1e-7},{"series":"EMCJET7","x":312,"y":5e-6},{"series":"EMCJET7","x":314,"y":1e-7},{"series":"EMCJET7","x":324,"y":5e-6},{"series":"EMCJET7","x":326,"y":1e-7},{"series":"EMCJET7","x":334,"y":1.0e-5},
        {"series":"EMCJET7","x":336,"y":1e-7},{"series":"EMCJET7","x":344,"y":5e-6},{"series":"EMCJET7","x":346,"y":1e-7},{"series":"EMCJET7","x":362,"y":5e-6},{"series":"EMCJET7","x":364,"y":1e-7},{"series":"EMCJET7","x":368,"y":5e-6},{"series":"EMCJET7","x":370,"y":1e-7},{"series":"EMCJET7","x":378,"y":5e-6},{"series":"EMCJET7","x":380,"y":1e-7},{"series":"EMCJET7","x":394,"y":5e-6},
        {"series":"EMCJET7","x":396,"y":1e-7},{"series":"EMCJET7","x":428,"y":5e-6},{"series":"EMCJET7","x":430,"y":1e-7},{"series":"EMCJET7","x":440,"y":5e-6},{"series":"EMCJET7","x":442,"y":1e-7},{"series":"EMCJET7","x":452,"y":5e-6},{"series":"EMCJET7","x":454,"y":1e-7},{"series":"EMCJET7","x":466,"y":5e-6},{"series":"EMCJET7","x":468,"y":1e-7},{"series":"EMCJET7","x":520,"y":5e-6},
        {"series":"EMCJET7","x":522,"y":1e-7},{"series":"EMCJET7","x":600,"y":1e-7},

        {"series":"EMCGAMMA7","x":0,"y":1e-7},{"series":"EMCGAMMA7","x":2,"y":7.9e-4},{"series":"EMCGAMMA7","x":4,"y":1.9e-3},{"series":"EMCGAMMA7","x":6,"y":3.16e-3},{"series":"EMCGAMMA7","x":8,"y":4.17e-3},{"series":"EMCGAMMA7","x":10,"y":5.37e-3},{"series":"EMCGAMMA7","x":12,"y":6.6e-3},{"series":"EMCGAMMA7","x":14,"y":7.94e-3},{"series":"EMCGAMMA7","x":16,"y":9.33e-3},{"series":"EMCGAMMA7","x":18,"y":1.047e-2},
        {"series":"EMCGAMMA7","x":20,"y":1.122e-2},{"series":"EMCGAMMA7","x":22,"y":1.202e-2},{"series":"EMCGAMMA7","x":24,"y":1.274e-2},{"series":"EMCGAMMA7","x":26,"y":1.334e-2},{"series":"EMCGAMMA7","x":28,"y":1.374e-2},{"series":"EMCGAMMA7","x":30,"y":1.406e-2},{"series":"EMCGAMMA7","x":32,"y":1.429e-2},{"series":"EMCGAMMA7","x":34,"y":1.445e-2},{"series":"EMCGAMMA7","x":36,"y":1.459e-2},{"series":"EMCGAMMA7","x":38,"y":1.466e-2},
        {"series":"EMCGAMMA7","x":40,"y":1.462e-2},{"series":"EMCGAMMA7","x":42,"y":1.452e-2},{"series":"EMCGAMMA7","x":44,"y":1.429e-2},{"series":"EMCGAMMA7","x":46,"y":1.406e-2},{"series":"EMCGAMMA7","x":48,"y":1.374e-2},{"series":"EMCGAMMA7","x":50,"y":1.334e-2},{"series":"EMCGAMMA7","x":52,"y":1.288e-2},{"series":"EMCGAMMA7","x":54,"y":1.245e-2},{"series":"EMCGAMMA7","x":56,"y":1.202e-2},{"series":"EMCGAMMA7","x":58,"y":1.148e-2},
        {"series":"EMCGAMMA7","x":60,"y":1.096e-2},{"series":"EMCGAMMA7","x":62,"y":1.035e-2},{"series":"EMCGAMMA7","x":64,"y":9.77e-3},{"series":"EMCGAMMA7","x":66,"y":9.12e-3},{"series":"EMCGAMMA7","x":68,"y":8.51e-3},{"series":"EMCGAMMA7","x":70,"y":7.94e-3},{"series":"EMCGAMMA7","x":72,"y":7.41e-3},{"series":"EMCGAMMA7","x":74,"y":6.92e-3},{"series":"EMCGAMMA7","x":76,"y":6.46e-3},{"series":"EMCGAMMA7","x":78,"y":6.05e-3},
        {"series":"EMCGAMMA7","x":80,"y":5.69e-3},{"series":"EMCGAMMA7","x":82,"y":5.35e-3},{"series":"EMCGAMMA7","x":84,"y":5.01e-3},{"series":"EMCGAMMA7","x":86,"y":4.7e-3},{"series":"EMCGAMMA7","x":88,"y":4.42e-3},{"series":"EMCGAMMA7","x":90,"y":4.14e-3},{"series":"EMCGAMMA7","x":92,"y":3.89e-3},{"series":"EMCGAMMA7","x":94,"y":3.63e-3},{"series":"EMCGAMMA7","x":96,"y":3.39e-3},{"series":"EMCGAMMA7","x":98,"y":3.16e-3},
        {"series":"EMCGAMMA7","x":100,"y":2.95e-3},{"series":"EMCGAMMA7","x":102,"y":2.75e-3},{"series":"EMCGAMMA7","x":104,"y":2.63e-3},{"series":"EMCGAMMA7","x":106,"y":2.37e-3},{"series":"EMCGAMMA7","x":108,"y":2.29e-3},{"series":"EMCGAMMA7","x":110,"y":2.09e-3},{"series":"EMCGAMMA7","x":112,"y":2.0e-3},{"series":"EMCGAMMA7","x":114,"y":1.8e-3},{"series":"EMCGAMMA7","x":116,"y":1.74e-3},{"series":"EMCGAMMA7","x":118,"y":1.58e-3},
        {"series":"EMCGAMMA7","x":120,"y":1.55e-3},{"series":"EMCGAMMA7","x":122,"y":1.38e-3},{"series":"EMCGAMMA7","x":124,"y":1.35e-3},{"series":"EMCGAMMA7","x":126,"y":1.2e-3},{"series":"EMCGAMMA7","x":128,"y":1.175e-3},{"series":"EMCGAMMA7","x":130,"y":1.02e-3},{"series":"EMCGAMMA7","x":132,"y":1.05e-3},{"series":"EMCGAMMA7","x":134,"y":8.9e-4},{"series":"EMCGAMMA7","x":136,"y":9.1e-4},{"series":"EMCGAMMA7","x":138,"y":7.76e-4},
        {"series":"EMCGAMMA7","x":140,"y":7.6e-4},{"series":"EMCGAMMA7","x":142,"y":6.46e-4},{"series":"EMCGAMMA7","x":144,"y":6.6e-4},{"series":"EMCGAMMA7","x":146,"y":5.37e-4},{"series":"EMCGAMMA7","x":148,"y":5.5e-4},{"series":"EMCGAMMA7","x":150,"y":4.17e-4},{"series":"EMCGAMMA7","x":152,"y":4.47e-4},{"series":"EMCGAMMA7","x":154,"y":3.47e-4},{"series":"EMCGAMMA7","x":156,"y":3.72e-4},{"series":"EMCGAMMA7","x":158,"y":2.75e-4},
        {"series":"EMCGAMMA7","x":160,"y":3.16e-4},{"series":"EMCGAMMA7","x":162,"y":2.09e-4},{"series":"EMCGAMMA7","x":164,"y":2.4e-4},{"series":"EMCGAMMA7","x":166,"y":1.82e-4},{"series":"EMCGAMMA7","x":168,"y":2.0e-4},{"series":"EMCGAMMA7","x":170,"y":1.38e-4},{"series":"EMCGAMMA7","x":172,"y":1.66e-4},{"series":"EMCGAMMA7","x":174,"y":1.12e-4},{"series":"EMCGAMMA7","x":176,"y":1.41e-4},{"series":"EMCGAMMA7","x":178,"y":8.9e-5},
        {"series":"EMCGAMMA7","x":180,"y":1.07e-4},{"series":"EMCGAMMA7","x":182,"y":7.1e-5},{"series":"EMCGAMMA7","x":184,"y":8.9e-5},{"series":"EMCGAMMA7","x":186,"y":5.0e-5},{"series":"EMCGAMMA7","x":188,"y":7.1e-5},{"series":"EMCGAMMA7","x":190,"y":4.5e-5},{"series":"EMCGAMMA7","x":192,"y":5.6e-5},{"series":"EMCGAMMA7","x":194,"y":3.0e-5},{"series":"EMCGAMMA7","x":196,"y":4.5e-5},{"series":"EMCGAMMA7","x":198,"y":2.0e-5},
        {"series":"EMCGAMMA7","x":200,"y":3.5e-5},{"series":"EMCGAMMA7","x":202,"y":2.5e-5},{"series":"EMCGAMMA7","x":204,"y":2.0e-5},{"series":"EMCGAMMA7","x":206,"y":3.0e-5},{"series":"EMCGAMMA7","x":208,"y":1.5e-5},{"series":"EMCGAMMA7","x":210,"y":2.0e-5},{"series":"EMCGAMMA7","x":212,"y":5e-6},{"series":"EMCGAMMA7","x":214,"y":1.5e-5},{"series":"EMCGAMMA7","x":216,"y":2.0e-5},{"series":"EMCGAMMA7","x":218,"y":1.0e-5},
        {"series":"EMCGAMMA7","x":220,"y":1.5e-5},{"series":"EMCGAMMA7","x":222,"y":1.0e-5},{"series":"EMCGAMMA7","x":224,"y":5e-6},{"series":"EMCGAMMA7","x":226,"y":1.0e-5},{"series":"EMCGAMMA7","x":228,"y":1e-7},{"series":"EMCGAMMA7","x":230,"y":1.0e-5},{"series":"EMCGAMMA7","x":232,"y":5e-6},{"series":"EMCGAMMA7","x":234,"y":1e-7},{"series":"EMCGAMMA7","x":236,"y":5e-6},{"series":"EMCGAMMA7","x":238,"y":1e-7},
        {"series":"EMCGAMMA7","x":244,"y":5e-6},{"series":"EMCGAMMA7","x":246,"y":1e-7},{"series":"EMCGAMMA7","x":252,"y":5e-6},{"series":"EMCGAMMA7","x":254,"y":1e-7},{"series":"EMCGAMMA7","x":258,"y":1.0e-5},{"series":"EMCGAMMA7","x":260,"y":1e-7},{"series":"EMCGAMMA7","x":266,"y":5e-6},{"series":"EMCGAMMA7","x":268,"y":1e-7},{"series":"EMCGAMMA7","x":274,"y":5e-6},{"series":"EMCGAMMA7","x":276,"y":1e-7},
        {"series":"EMCGAMMA7","x":282,"y":5e-6},{"series":"EMCGAMMA7","x":284,"y":1e-7},{"series":"EMCGAMMA7","x":288,"y":1.0e-5},{"series":"EMCGAMMA7","x":290,"y":1e-7},{"series":"EMCGAMMA7","x":302,"y":5e-6},{"series":"EMCGAMMA7","x":304,"y":1e-7},{"series":"EMCGAMMA7","x":320,"y":5e-6},{"series":"EMCGAMMA7","x":322,"y":1e-7},{"series":"EMCGAMMA7","x":324,"y":1.0e-5},{"series":"EMCGAMMA7","x":326,"y":1e-7},
        {"series":"EMCGAMMA7","x":336,"y":5e-6},{"series":"EMCGAMMA7","x":338,"y":1e-7},{"series":"EMCGAMMA7","x":344,"y":5e-6},{"series":"EMCGAMMA7","x":346,"y":1e-7},{"series":"EMCGAMMA7","x":354,"y":5e-6},{"series":"EMCGAMMA7","x":356,"y":1e-7},{"series":"EMCGAMMA7","x":364,"y":5e-6},{"series":"EMCGAMMA7","x":366,"y":1e-7},{"series":"EMCGAMMA7","x":380,"y":5e-6},{"series":"EMCGAMMA7","x":382,"y":1e-7},
        {"series":"EMCGAMMA7","x":388,"y":1.5e-5},{"series":"EMCGAMMA7","x":390,"y":1e-7},{"series":"EMCGAMMA7","x":418,"y":5e-6},{"series":"EMCGAMMA7","x":420,"y":1e-7},{"series":"EMCGAMMA7","x":438,"y":5e-6},{"series":"EMCGAMMA7","x":440,"y":1e-7},{"series":"EMCGAMMA7","x":450,"y":5e-6},{"series":"EMCGAMMA7","x":452,"y":1e-7},{"series":"EMCGAMMA7","x":466,"y":5e-6},{"series":"EMCGAMMA7","x":468,"y":1e-7},
        {"series":"EMCGAMMA7","x":548,"y":5e-6},{"series":"EMCGAMMA7","x":550,"y":1e-7},{"series":"EMCGAMMA7","x":564,"y":5e-6},{"series":"EMCGAMMA7","x":566,"y":1e-7},{"series":"EMCGAMMA7","x":600,"y":1e-7}
      ]},
      "mark": {"type": "line", "interpolate": "step-after", "clip": true, "strokeWidth": 1.2},
      "encoding": {
        "x": {"field": "x", "type": "quantitative",
          "scale": {"domain": [0, 600], "nice": false, "zero": false},
          "axis": {
            "title": "multiplicity", "titleFont": "DejaVu Sans", "titleFontSize": 9, "titleFontWeight": "normal",
            "titleAnchor": "end", "titleAlign": "right", "titleBaseline": "alphabetic", "titleX": 405, "titleY": 20,
            "values": [0,20,40,60,80,100,120,140,160,180,200,220,240,260,280,300,320,340,360,380,400,420,440,460,480,500,520,540,560,580,600],
            "tickCount": 200,
            "labelExpr": "datum.value % 100 == 0 ? datum.label : ''",
            "labelFont": "DejaVu Sans", "labelFontSize": 9.5, "labelPadding": 11, "labelFlush": false, "labelOverlap": false,
            "tickSize": -8,
            "tickDash": {"condition": {"test": "datum.value % 100 == 0", "value": [20, 0]}, "value": [4, 30]},
            "grid": true, "gridColor": "black", "gridDash": [1, 2], "gridWidth": 1,
            "gridOpacity": {"condition": {"test": "datum.value % 100 == 0 && datum.value > 0 && datum.value < 600", "value": 1}, "value": 0}
          }
        },
        "y": {"field": "y", "type": "quantitative",
          "scale": {"type": "log", "domain": [2.48e-6, 0.02735], "nice": false},
          "axis": {
            "title": "Entries", "titleFont": "DejaVu Sans", "titleFontSize": 7.5, "titleFontWeight": "normal",
            "titleAnchor": "end", "titleAlign": "right", "titleBaseline": "middle", "titleAngle": 270, "titleX": -29, "titleY": 0,
            "values": [0.000003,0.000004,0.000005,0.000006,0.000007,0.000008,0.000009,0.00001,0.00002,0.00003,0.00004,0.00005,0.00006,0.00007,0.00008,0.00009,0.0001,0.0002,0.0003,0.0004,0.0005,0.0006,0.0007,0.0008,0.0009,0.001,0.002,0.003,0.004,0.005,0.006,0.007,0.008,0.009,0.01,0.02],
            "tickCount": 200,
            "labelExpr": "datum.value == 0.00001 ? '10⁻⁵' : datum.value == 0.0001 ? '10⁻⁴' : datum.value == 0.001 ? '10⁻³' : datum.value == 0.01 ? '10⁻²' : ''",
            "labelFont": "DejaVu Sans", "labelFontSize": 10, "labelPadding": 14, "labelOverlap": false,
            "tickSize": -12,
            "tickDash": {"condition": {"test": "datum.value == 0.00001 || datum.value == 0.0001 || datum.value == 0.001 || datum.value == 0.01", "value": [20, 0]}, "value": [6, 30]},
            "grid": true, "gridColor": "black", "gridDash": [1, 2], "gridWidth": 1,
            "gridOpacity": {"condition": {"test": "datum.value == 0.00001 || datum.value == 0.0001 || datum.value == 0.001 || datum.value == 0.01", "value": 1}, "value": 0}
          }
        },
        "color": {"field": "series", "type": "nominal",
          "scale": {"domain": ["EMCGAMMA8", "EMCJET7", "EMCJET8", "EMCGAMMA7"], "range": ["#FF0000", "#00EE00", "#D07840", "#000099"]},
          "legend": {"orient": "none", "legendX": 216, "legendY": 55, "title": null, "padding": 0,
            "symbolType": "stroke", "symbolSize": 729, "symbolStrokeWidth": 1.5,
            "labelFont": "DejaVu Sans", "labelFontSize": 12.5, "labelColor": "black", "labelOffset": 4, "rowPadding": 2.7}
        }
      }
    },
    {
      "data": {"values": [{}]},
      "mark": {"type": "rect", "fill": "black", "clip": false},
      "encoding": {
        "x": {"datum": 513.5, "type": "quantitative", "scale": {"domain": [0, 600], "nice": false, "zero": false}},
        "x2": {"datum": 660.6},
        "y": {"datum": 0.0375, "type": "quantitative", "scale": {"type": "log", "domain": [2.48e-6, 0.02735], "nice": false}},
        "y2": {"datum": 0.00612}
      }
    },
    {
      "data": {"values": [{}]},
      "mark": {"type": "rect", "fill": "white", "stroke": "black", "strokeWidth": 1, "clip": false},
      "encoding": {
        "x": {"datum": 511.1, "type": "quantitative", "scale": {"domain": [0, 600], "nice": false, "zero": false}},
        "x2": {"datum": 658.2},
        "y": {"datum": 0.03963, "type": "quantitative", "scale": {"type": "log", "domain": [2.48e-6, 0.02735], "nice": false}},
        "y2": {"datum": 0.00647}
      }
    },
    {
      "data": {"values": [{}]},
      "mark": {"type": "rule", "color": "black", "strokeWidth": 1, "clip": false},
      "encoding": {
        "x": {"datum": 511.1, "type": "quantitative", "scale": {"domain": [0, 600], "nice": false, "zero": false}},
        "x2": {"datum": 658.2},
        "y": {"datum": 0.02831, "type": "quantitative", "scale": {"type": "log", "domain": [2.48e-6, 0.02735], "nice": false}}
      }
    },
    {
      "data": {"values": [{}]},
      "mark": {"type": "text", "font": "DejaVu Sans", "fontSize": 11, "align": "center", "baseline": "alphabetic", "color": "black", "clip": false},
      "encoding": {
        "x": {"datum": 586.2, "type": "quantitative", "scale": {"domain": [0, 600], "nice": false, "zero": false}},
        "y": {"datum": 0.02906, "type": "quantitative", "scale": {"type": "log", "domain": [2.48e-6, 0.02735], "nice": false}},
        "text": {"value": "hMult"}
      }
    },
    {
      "data": {"values": [{}]},
      "mark": {"type": "text", "font": "DejaVu Sans", "fontSize": 10, "align": "left", "baseline": "alphabetic", "color": "black", "clip": false},
      "encoding": {
        "x": {"datum": 516, "type": "quantitative", "scale": {"domain": [0, 600], "nice": false, "zero": false}},
        "y": {"datum": 0.01648, "type": "quantitative", "scale": {"type": "log", "domain": [2.48e-6, 0.02735], "nice": false}},
        "text": {"value": "Entries"}
      }
    },
    {
      "data": {"values": [{}]},
      "mark": {"type": "text", "font": "DejaVu Sans", "fontSize": 10, "align": "right", "baseline": "alphabetic", "color": "black", "clip": false},
      "encoding": {
        "x": {"datum": 653.3, "type": "quantitative", "scale": {"domain": [0, 600], "nice": false, "zero": false}},
        "y": {"datum": 0.01648, "type": "quantitative", "scale": {"type": "log", "domain": [2.48e-6, 0.02735], "nice": false}},
        "text": {"value": "161012"}
      }
    },
    {
      "data": {"values": [{}]},
      "mark": {"type": "text", "font": "DejaVu Sans", "fontSize": 10, "align": "left", "baseline": "alphabetic", "color": "black", "clip": false},
      "encoding": {
        "x": {"datum": 516, "type": "quantitative", "scale": {"domain": [0, 600], "nice": false, "zero": false}},
        "y": {"datum": 0.01148, "type": "quantitative", "scale": {"type": "log", "domain": [2.48e-6, 0.02735], "nice": false}},
        "text": {"value": "Mean"}
      }
    },
    {
      "data": {"values": [{}]},
      "mark": {"type": "text", "font": "DejaVu Sans", "fontSize": 10, "align": "right", "baseline": "alphabetic", "color": "black", "clip": false},
      "encoding": {
        "x": {"datum": 653.3, "type": "quantitative", "scale": {"domain": [0, 600], "nice": false, "zero": false}},
        "y": {"datum": 0.01148, "type": "quantitative", "scale": {"type": "log", "domain": [2.48e-6, 0.02735], "nice": false}},
        "text": {"value": "78.06"}
      }
    },
    {
      "data": {"values": [{}]},
      "mark": {"type": "text", "font": "DejaVu Sans", "fontSize": 10, "align": "left", "baseline": "alphabetic", "color": "black", "clip": false},
      "encoding": {
        "x": {"datum": 516, "type": "quantitative", "scale": {"domain": [0, 600], "nice": false, "zero": false}},
        "y": {"datum": 0.00784, "type": "quantitative", "scale": {"type": "log", "domain": [2.48e-6, 0.02735], "nice": false}},
        "text": {"value": "RMS"}
      }
    },
    {
      "data": {"values": [{}]},
      "mark": {"type": "text", "font": "DejaVu Sans", "fontSize": 10, "align": "right", "baseline": "alphabetic", "color": "black", "clip": false},
      "encoding": {
        "x": {"datum": 653.3, "type": "quantitative", "scale": {"domain": [0, 600], "nice": false, "zero": false}},
        "y": {"datum": 0.00784, "type": "quantitative", "scale": {"type": "log", "domain": [2.48e-6, 0.02735], "nice": false}},
        "text": {"value": "37.76"}
      }
    }
  ]
}
